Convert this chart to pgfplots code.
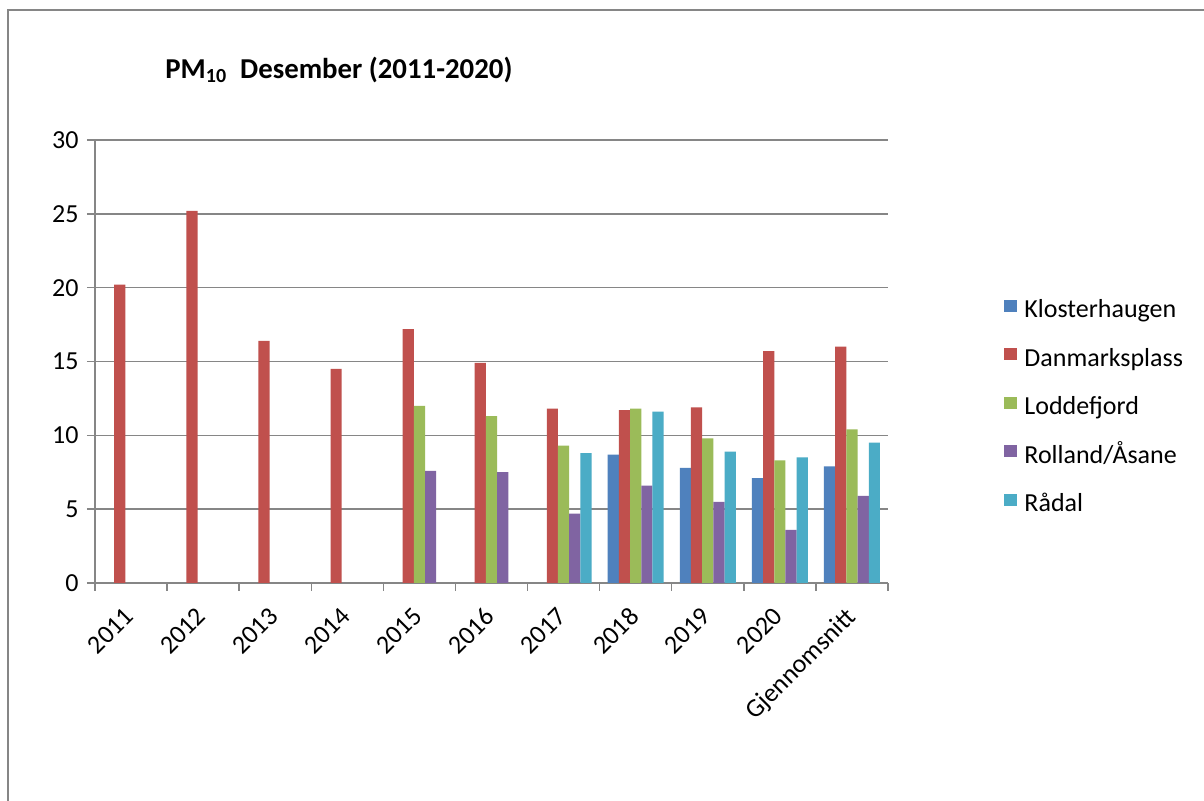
\documentclass[border=0pt]{standalone}
\usepackage{fontspec}
\setmainfont{Carlito}
\usepackage{pgfplots}
\usepackage{pgfplotstable}
\pgfplotsset{compat=1.18}

\definecolor{cK}{HTML}{4F81BD}
\definecolor{cD}{HTML}{C0504D}
\definecolor{cL}{HTML}{9BBB59}
\definecolor{cR}{HTML}{8064A2}
\definecolor{cRa}{HTML}{4BACC6}
\definecolor{axgray}{HTML}{868686}

% PM10 december means per station, last row is the average
\pgfplotstableread{
x  K    D    L    R    Ra
0  nan  20.2 nan  nan  nan
1  nan  25.2 nan  nan  nan
2  nan  16.4 nan  nan  nan
3  nan  14.5 nan  nan  nan
4  nan  17.2 12.0 7.6  nan
5  nan  14.9 11.3 7.5  nan
6  nan  11.8 9.3  4.7  8.8
7  8.7  11.7 11.8 6.6  11.6
8  7.8  11.9 9.8  5.5  8.9
9  7.1  15.7 8.3  3.6  8.5
10 7.9  16.0 10.4 5.9  9.5
}\datatable

\begin{document}
\begin{tikzpicture}
  \useasboundingbox (0,0) rectangle (602pt,400.5pt);
  \fill[white] (0,0) rectangle (602pt,400.5pt);
  \draw[axgray, line width=0.75pt] (4pt,-20pt) -- (4pt,395.5pt) -- (700pt,395.5pt);
  \node[anchor=west, inner sep=0pt, font=\fontsize{14.4}{16}\selectfont\bfseries] at (82.5pt,365.5pt)
    {PM\textsubscript{10}\ \ Desember (2011-2020)};
  \begin{axis}[
      at={(47.5pt,109pt)}, anchor=south west,
      scale only axis, width=396.5pt, height=221.5pt,
      ybar=0pt, bar width=5.6pt,
      xmin=-0.5, xmax=10.5, ymin=0, ymax=30,
      axis x line*=bottom, axis y line*=left,
      axis line style={draw=axgray, line width=0.75pt, -},
      tick align=outside, major tick length=4pt,
      tick style={draw=axgray, line width=0.75pt},
      xtick={-0.5,0.5,...,10.5}, xticklabels={},
      extra x ticks={0,...,10},
      extra x tick labels={2011,2012,2013,2014,2015,2016,2017,2018,2019,2020,Gjennomsnitt},
      extra x tick style={major tick length=0pt},
      x tick label style={rotate=45, anchor=north east, inner sep=0pt, xshift=-10.7pt, yshift=-5.2pt},
      ytick={0,5,...,30}, ymajorgrids,
      grid style={draw=axgray, line width=0.75pt},
      yticklabel style={inner sep=0pt, xshift=-4pt},
      /pgf/number format/assume math mode=true,
      tick label style={font=\fontsize{13}{15}\selectfont},
      legend image code/.code={\fill[#1] (0pt,0pt) rectangle (6.5pt,6pt);},
      legend style={at={(1.1463,0.3928)}, anchor=west, draw=none, fill=none,
        inner sep=0pt, row sep=12.25pt, column sep=3.5pt,
        font=\fontsize{13}{15}\selectfont,
        nodes={inner sep=0pt, text height=9pt, text depth=3pt}},
      legend cell align=left,
    ]
    \addplot[fill=cK, draw=none] table[x=x, y=K] {\datatable};
    \addplot[fill=cD, draw=none] table[x=x, y=D] {\datatable};
    \addplot[fill=cL, draw=none] table[x=x, y=L] {\datatable};
    \addplot[fill=cR, draw=none] table[x=x, y=R] {\datatable};
    \addplot[fill=cRa, draw=none] table[x=x, y=Ra] {\datatable};
    \legend{Klosterhaugen, Danmarksplass, Loddefjord, Rolland/Åsane, Rådal}
  \end{axis}
\end{tikzpicture}
\end{document}
